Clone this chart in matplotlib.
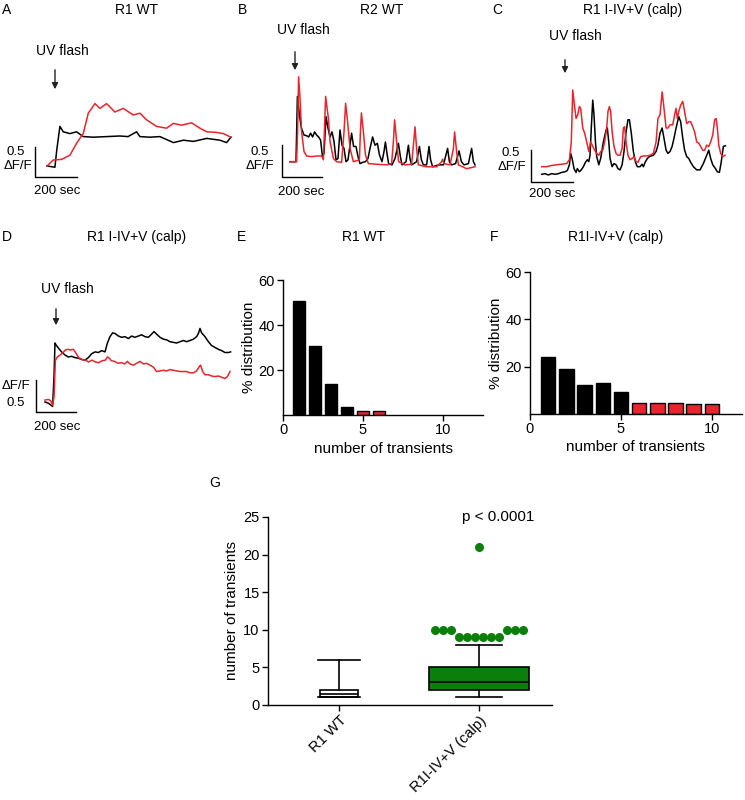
import numpy as np
import matplotlib.pyplot as plt
from matplotlib.patches import FancyArrowPatch

plt.rcParams['font.family'] = ['Liberation Sans', 'DejaVu Sans']
plt.rcParams['font.size'] = 10

RED = '#e5262c'
GREEN = '#0b7f0b'

# traces: (time in sec, dF/F)
a_black = [(0, 0), (38, -0.02), (47, 0.27), (62, 0.66), (78, 0.57), (110, 0.54), (142, 0.57), (174, 0.49),
           (222, 0.48), (286, 0.49), (350, 0.5), (389, 0.49), (430, 0.57), (446, 0.49), (494, 0.48), (542, 0.49),
           (607, 0.39), (655, 0.43), (703, 0.41), (767, 0.46), (830, 0.43), (862, 0.39), (883, 0.48)]
a_red = [(0, 0), (30, 0.1), (70, 0.11), (110, 0.18), (142, 0.38), (174, 0.54), (198, 0.88), (230, 1.04),
         (254, 0.96), (286, 1.04), (326, 0.9), (366, 0.96), (414, 0.85), (446, 0.88), (478, 0.77), (526, 0.66),
         (574, 0.63), (606, 0.71), (646, 0.68), (694, 0.72), (734, 0.63), (767, 0.57), (814, 0.56), (846, 0.54),
         (883, 0.48)]

b_red = [(0, 0), (33, 0), (38, 0.47), (43, 1.34), (50, 1.0), (58, 0.47), (70, 0.16), (83, 0.09), (108, 0.08),
         (133, 0.09), (158, 0.09), (167, 0.03), (172, 0.47), (178, 1.03), (192, 0.68), (200, 0.32), (217, 0.05),
         (233, 0), (258, -0.01), (270, 0.47), (278, 0.92), (288, 0.63), (300, 0.21), (317, 0), (347, 0.03),
         (352, 0.47), (357, 0.77), (367, 0.47), (377, 0.11), (392, -0.03), (433, -0.04), (483, -0.05),
         (508, -0.03), (517, 0.32), (523, 0.66), (533, 0.32), (543, 0), (575, -0.05), (608, -0.04), (617, 0.26),
         (625, 0.55), (633, 0.21), (642, -0.05), (683, -0.08), (733, -0.08), (758, 0), (763, 0.04), (770, -0.03),
         (800, -0.05), (817, 0.21), (823, 0.47), (833, 0.16), (842, -0.05), (883, -0.11), (925, -0.08)]
b_black = [(0, 0), (30, 0), (37, 1.03), (47, 0.74), (57, 0.53), (70, 0.42), (83, 0.41), (93, 0.39), (103, 0.45),
           (113, 0.39), (123, 0.47), (133, 0.42), (143, 0.39), (153, 0.34), (162, 0.09), (170, 0.13), (180, 0.71),
           (190, 0.53), (200, 0.39), (210, 0.47), (220, 0.32), (230, 0.03), (240, 0.05), (250, 0.5), (260, 0.26),
           (270, 0.21), (280, 0), (290, 0.03), (300, 0.26), (308, 0.45), (318, 0.24), (330, 0.24), (340, 0.08),
           (350, -0.03), (363, -0.01), (377, 0), (390, 0.05), (400, 0.21), (413, 0.39), (425, 0.26), (437, 0.29),
           (447, 0.11), (460, 0), (470, 0.16), (477, 0.31), (485, 0.13), (493, -0.03), (510, -0.05), (525, 0.05),
           (542, 0.29), (552, 0.08), (560, -0.05), (580, 0), (592, 0.26), (600, 0.05), (608, -0.05), (633, 0),
           (647, 0.24), (657, 0.03), (667, -0.05), (683, -0.05), (695, 0.24), (703, 0.03), (713, -0.08),
           (742, -0.05), (767, -0.05), (780, 0.11), (788, 0.21), (797, 0), (808, -0.05), (828, -0.03), (845, 0.17),
           (857, 0), (870, -0.05), (892, -0.03), (908, 0.21), (917, 0), (925, -0.05)]

c_red = [(0, 0), (24, 0), (48, 0.02), (72, 0.03), (96, 0.04), (120, 0.05), (133, 0.11), (142, 0.39), (149, 1.21),
         (155, 1.03), (165, 0.76), (173, 0.82), (181, 0.95), (187, 0.92), (197, 0.61), (206, 0.53), (216, 0.39),
         (226, 0.24), (235, 0.39), (245, 0.32), (254, 0.26), (264, 0.21), (274, 0.18), (283, 0.24), (293, 0.26),
         (302, 0.39), (312, 0.61), (318, 0.87), (325, 0.95), (331, 0.87), (338, 0.55), (347, 0.32), (357, 0.21),
         (366, 0.18), (376, 0.18), (386, 0.29), (392, 0.61), (398, 0.63), (405, 0.39), (414, 0.18), (424, 0.11),
         (434, 0.13), (443, 0.16), (453, 0.08), (462, 0.07), (475, 0.16), (488, 0.17), (504, 0.17), (520, 0.18),
         (536, 0.21), (549, 0.39), (558, 0.76), (568, 0.82), (578, 1.18), (587, 0.92), (597, 0.61), (606, 0.61),
         (616, 0.66), (629, 0.66), (638, 0.82), (645, 0.92), (651, 0.76), (658, 0.87), (667, 0.97), (677, 1.03),
         (686, 0.87), (696, 0.68), (706, 0.71), (715, 0.71), (725, 0.63), (734, 0.55), (744, 0.39), (754, 0.37),
         (763, 0.32), (773, 0.26), (782, 0.26), (792, 0.34), (802, 0.32), (811, 0.39), (821, 0.5), (830, 0.74),
         (837, 0.76), (843, 0.61), (850, 0.34), (859, 0.21), (869, 0.16), (880, 0.18)]
c_black = [(0, -0.12), (16, -0.11), (32, -0.13), (48, -0.11), (64, -0.12), (80, -0.11), (96, -0.09), (112, -0.08),
           (123, -0.06), (133, 0.03), (139, 0.21), (146, 0.13), (155, -0.03), (165, -0.09), (171, -0.03),
           (181, -0.08), (190, -0.05), (200, 0), (210, 0.07), (219, 0.11), (226, 0.08), (232, 0.18), (238, 0.61),
           (245, 1.05), (251, 0.82), (258, 0.39), (264, 0.16), (274, 0.03), (283, 0.13), (296, 0.39), (309, 0.58),
           (315, 0.61), (322, 0.39), (328, 0.13), (338, 0), (347, 0.05), (357, 0.03), (366, -0.03), (376, -0.05),
           (386, 0.03), (395, 0.24), (405, 0.55), (414, 0.74), (421, 0.74), (430, 0.53), (440, 0.24), (450, 0.07),
           (459, 0), (472, 0), (482, 0.04), (488, 0), (498, 0.08), (507, 0.13), (517, 0.16), (526, 0.17),
           (536, 0.18), (549, 0.24), (558, 0.34), (568, 0.53), (578, 0.61), (587, 0.45), (597, 0.26), (606, 0.21),
           (616, 0.24), (626, 0.32), (635, 0.45), (645, 0.61), (658, 0.79), (667, 0.71), (677, 0.45), (686, 0.26),
           (696, 0.16), (706, 0.13), (715, 0.07), (728, 0), (744, -0.05), (760, -0.05), (776, 0.05), (792, 0.18),
           (802, 0.26), (811, 0.13), (821, 0.03), (834, -0.03), (843, -0.08), (853, -0.09), (862, 0.08),
           (872, 0.32), (882, 0.33)]

d_black = [(0, -0.02), (17, -0.04), (38, -0.09), (45, 0.38), (50, 0.91), (55, 0.88), (67, 0.83), (83, 0.77),
           (100, 0.72), (117, 0.69), (133, 0.7), (150, 0.68), (167, 0.67), (183, 0.65), (200, 0.64), (217, 0.68),
           (233, 0.74), (250, 0.77), (267, 0.76), (283, 0.79), (300, 0.77), (312, 0.91), (325, 1.01), (338, 1.07),
           (350, 1.06), (367, 1.02), (383, 1.0), (400, 1.01), (417, 0.98), (433, 1.02), (450, 1.0), (467, 1.02),
           (483, 1.04), (500, 1.01), (517, 1.0), (533, 1.05), (545, 1.09), (558, 1.05), (575, 1.0), (592, 0.97),
           (608, 0.96), (625, 0.93), (642, 0.92), (658, 0.91), (675, 0.93), (692, 0.95), (708, 0.93), (725, 0.95),
           (742, 0.97), (758, 1.01), (767, 1.06), (775, 1.14), (783, 1.07), (800, 1.01), (817, 0.93), (833, 0.87),
           (850, 0.84), (867, 0.81), (883, 0.79), (900, 0.76), (917, 0.76), (928, 0.77)]
d_red = [(0, 0.01), (17, 0.02), (28, 0), (38, -0.07), (45, 0.06), (52, 0.64), (62, 0.69), (75, 0.72), (88, 0.75),
         (102, 0.8), (115, 0.81), (128, 0.8), (142, 0.81), (155, 0.75), (168, 0.68), (185, 0.65), (202, 0.64),
         (218, 0.61), (235, 0.64), (252, 0.61), (268, 0.6), (285, 0.63), (302, 0.64), (312, 0.69), (322, 0.67),
         (332, 0.63), (348, 0.62), (365, 0.59), (382, 0.6), (398, 0.58), (412, 0.62), (425, 0.58), (442, 0.56),
         (458, 0.59), (475, 0.62), (492, 0.58), (508, 0.59), (525, 0.56), (542, 0.53), (558, 0.46), (575, 0.47),
         (592, 0.48), (608, 0.47), (625, 0.49), (642, 0.48), (658, 0.47), (675, 0.46), (692, 0.46), (708, 0.46),
         (725, 0.44), (742, 0.44), (758, 0.47), (772, 0.54), (778, 0.56), (788, 0.46), (800, 0.41), (817, 0.41),
         (833, 0.39), (850, 0.38), (867, 0.39), (883, 0.37), (900, 0.35), (912, 0.38), (925, 0.46)]

# histograms (% distribution by number of transients)
e_n = [1, 2, 3, 4, 5, 6]
e_pct = [50.5, 30.5, 13.8, 3.7, 1.8, 1.8]
f_n = [1, 2, 3, 4, 5, 6, 7, 8, 9, 10]
f_pct = [24, 19, 12.4, 13, 9.5, 4.8, 4.8, 4.8, 4.3, 4.3]

# box plot summary
g_labels = ['R1 WT', 'R1I-IV+V (calp)']
g_q1 = [1, 2]
g_med = [1.5, 3]
g_q3 = [2, 5]
g_lo = [1, 1]
g_hi = [6, 8]
g_outliers = [10, 10, 10, 9, 9, 9, 9, 9, 9, 10, 10, 10, 21]

W, H = 745, 800
fig = plt.figure(figsize=(W / 100, H / 100), dpi=100)


def fx(x):
    return x / W


def fy(y):
    return 1 - y / H


def txt(x, y, s, **kw):
    kw.setdefault('ha', 'center')
    kw.setdefault('va', 'center')
    fig.text(fx(x), fy(y), s, **kw)


def arrow(x, y0, y1):
    fig.add_artist(FancyArrowPatch((fx(x), fy(y0)), (fx(x), fy(y1)), transform=fig.transFigure,
                                   arrowstyle='-|>', mutation_scale=9, lw=1.0, color='#222222'))


def trace_panel(box, org, spx, vpx, black, red, bar_at):
    x0, y0, x1, y1 = box
    ox, oy = org
    ax = fig.add_axes([fx(x0), fy(y1), (x1 - x0) / W, (y1 - y0) / H])
    ax.set_xlim((x0 - ox) * spx, (x1 - ox) * spx)
    ax.set_ylim((oy - y1) * vpx, (oy - y0) * vpx)
    ax.axis('off')
    for tr, c in ((black, 'black'), (red, RED)):
        t, v = zip(*tr)
        ax.plot(t, v, color=c, lw=1.1, zorder=3 if c == RED else 2)
    # scale bar: 200 sec, 0.5 dF/F
    bx, by = (bar_at[0] - ox) * spx, (oy - bar_at[1]) * vpx
    ax.plot([bx, bx, bx + 200], [by + 0.5, by, by], color='black', lw=1.0, clip_on=False)
    return ax


trace_panel((25, 90, 240, 185), (47, 166), 4.8, 1 / 60, a_black, a_red, (35, 177))
trace_panel((270, 60, 485, 185), (290, 161.7), 5.0, 0.5 / 31.7, b_black, b_red, (281.7, 176.7))
trace_panel((525, 70, 742, 190), (541.7, 166.7), 4.8, 0.5 / 31.7, c_black, c_red, (531, 181.7))
trace_panel((25, 300, 240, 420), (45, 400.7), 5.0, 0.5 / 31.7, d_black, d_red, (36, 411.7))

# panel letters and titles
for lx, ly, s in [(2, 10, 'A'), (238, 10, 'B'), (492, 10, 'C'), (2, 237, 'D'),
                  (237, 237, 'E'), (490, 237, 'F'), (209, 483, 'G')]:
    txt(lx, ly, s, ha='left')
txt(137, 10, 'R1 WT')
txt(382, 10, 'R2 WT')
txt(633, 10, 'R1 I-IV+V (calp)')
txt(137, 237, 'R1 I-IV+V (calp)')
txt(364, 237, 'R1 WT')
txt(616, 237, 'R1I-IV+V (calp)')

for ux, uy, ax_x, a0, a1 in [(62, 51, 55, 67, 92), (303, 30, 295, 49, 73),
                             (575, 36, 565, 57, 76), (67, 289, 56, 306, 328)]:
    txt(ux, uy, 'UV flash')
    arrow(ax_x, a0, a1)

sb = dict(fontsize=9.5)
txt(16, 152, '0.5', **sb); txt(18, 166, 'ΔF/F', **sb); txt(57, 191, '200 sec', **sb)
txt(260, 152, '0.5', **sb); txt(260, 166, 'ΔF/F', **sb); txt(301, 192, '200 sec', **sb)
txt(511, 153, '0.5', **sb); txt(512, 167, 'ΔF/F', **sb); txt(552, 194, '200 sec', **sb)
txt(16, 386, 'ΔF/F', **sb); txt(16, 403, '0.5', **sb); txt(57, 427, '200 sec', **sb)


def style_axes(ax):
    for s in ('top', 'right'):
        ax.spines[s].set_visible(False)
    for s in ('left', 'bottom'):
        ax.spines[s].set_linewidth(1.0)
    ax.tick_params(direction='out', length=4, width=1.0, labelsize=10.5, pad=2)


def hist_panel(rect_px, xmax, n, pct, red_from):
    x0, y0, x1, y1 = rect_px
    ax = fig.add_axes([fx(x0), fy(y1), (x1 - x0) / W, (y1 - y0) / H])
    colors = ['black' if k < red_from else RED for k in n]
    ax.bar(n, pct, width=0.8, color=colors, edgecolor='black', linewidth=1.0)
    ax.set_xlim(0, xmax)
    ax.set_ylim(0, 60)
    ax.set_xticks([0, 5, 10])
    ax.set_yticks([20, 40, 60])
    ax.set_xlabel('number of transients', fontsize=11, labelpad=3)
    ax.set_ylabel('% distribution', fontsize=11, labelpad=2)
    style_axes(ax)
    return ax


hist_panel((283, 280, 483, 415), 12.5, e_n, e_pct, 5)
hist_panel((530, 272, 742, 414), 11.65, f_n, f_pct, 6)

# panel G box plot
axg = fig.add_axes([fx(268), fy(705), (552 - 268) / W, (705 - 517) / H])
stats = [dict(label=g_labels[i], med=g_med[i], q1=g_q1[i], q3=g_q3[i], whislo=g_lo[i], whishi=g_hi[i],
              fliers=[]) for i in range(2)]
line = dict(color='black', linewidth=1.2)
bp = axg.bxp(stats, positions=[1, 2], widths=[0.27, 0.71], capwidths=[0.3, 0.33], patch_artist=True,
             showfliers=False, boxprops=dict(edgecolor='black', linewidth=1.2), medianprops=line,
             whiskerprops=line, capprops=line)
bp['boxes'][0].set_facecolor('white')
bp['boxes'][1].set_facecolor(GREEN)

# spread outliers sideways like a column scatter
step = 0.057
rows = []
ox_list, oy_list = [], []
for val in sorted(set(g_outliers)):
    cnt = g_outliers.count(val)
    near = [hw for v, hw in rows if abs(v - val) < 1.5]
    if near:
        hw = max(near) + 1
        half = cnt // 2
        offs = [-(hw + i) for i in range(half)][::-1] + [hw + i for i in range(cnt - half)]
        rows.append((val, hw + half))
    else:
        offs = [i - (cnt - 1) / 2 for i in range(cnt)]
        rows.append((val, (cnt - 1) / 2))
    for o in offs:
        ox_list.append(2 + o * step)
        oy_list.append(val)
axg.scatter(ox_list, oy_list, s=30, color=GREEN, zorder=4, clip_on=False)

axg.set_xlim(0.493, 2.52)
axg.set_ylim(0, 25)
axg.set_yticks([0, 5, 10, 15, 20, 25])
axg.set_xticks([1, 2])
axg.set_xticklabels(g_labels, rotation=45, ha='right', rotation_mode='anchor')
axg.set_ylabel('number of transients', fontsize=11, labelpad=3)
style_axes(axg)
txt(498, 517, 'p < 0.0001', fontsize=11)

fig.savefig('out.png', dpi=100)
